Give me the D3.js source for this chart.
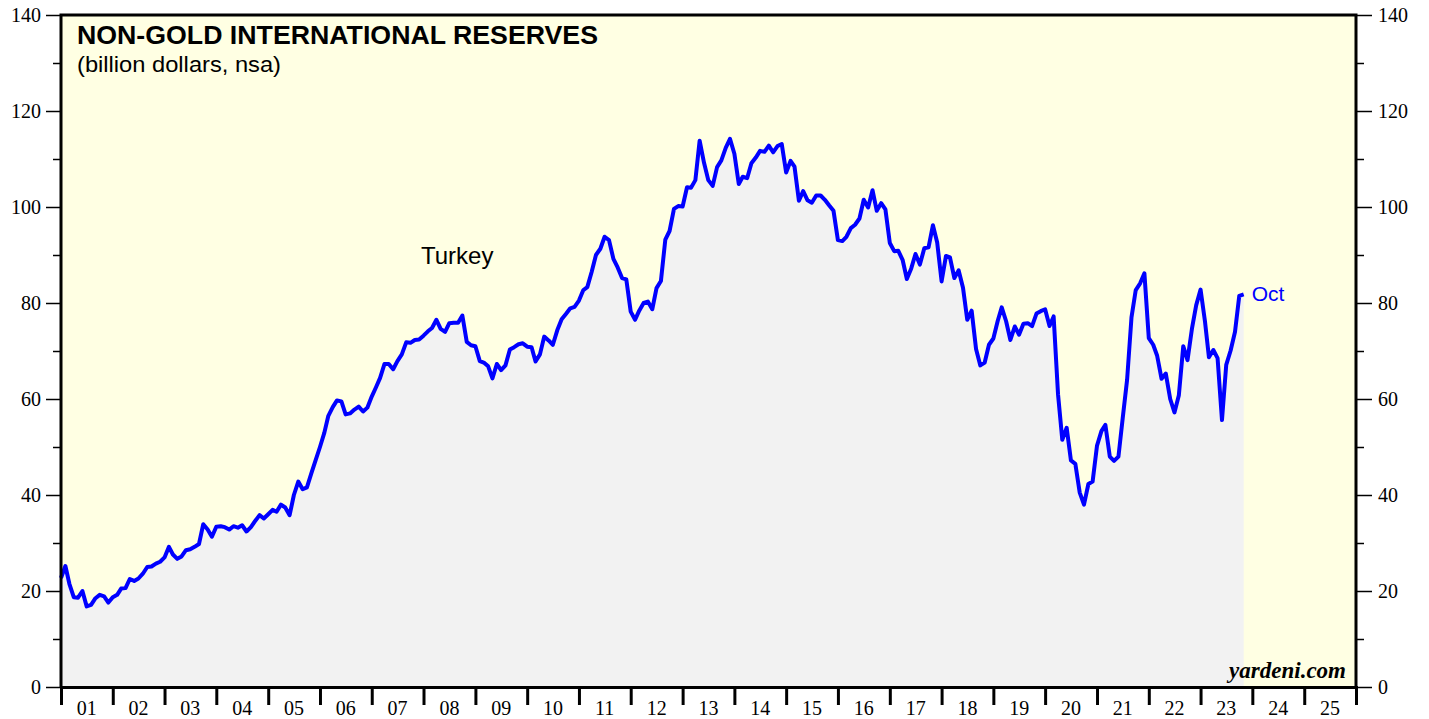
<!DOCTYPE html>
<html>
<head>
<meta charset="utf-8">
<script src="https://cdn.jsdelivr.net/npm/d3@7"></script>
<style>
  body { margin: 0; background: #fff; }
  svg { display: block; }
</style>
</head>
<body>
<div id="chart"></div>
<script>
// monthly non-gold reserves, billion $, Dec 2000 .. Oct 2023 (end of month)
var startYear = 2001; // first value is plotted at the start of 2001 (end of Dec 2000)
var reserves = [
  22.7,
  25.2, 21.5, 18.7, 18.6, 20.0, 16.8, 17.1, 18.5, 19.2, 18.9, 17.6, 18.7,
  19.2, 20.5, 20.6, 22.5, 22.1, 22.6, 23.6, 25.0, 25.1, 25.7, 26.1, 27.0,
  29.2, 27.6, 26.7, 27.2, 28.5, 28.7, 29.2, 29.8, 33.9, 32.8, 31.3, 33.4,
  33.5, 33.3, 32.8, 33.5, 33.2, 33.7, 32.4, 33.3, 34.6, 35.8, 35.1, 36.0,
  36.9, 36.5, 38.0, 37.4, 35.8, 40.0, 42.8, 41.2, 41.6, 44.5, 47.2, 50.0,
  53.0, 56.5, 58.3, 59.7, 59.5, 56.8, 57.0, 57.8, 58.4, 57.4, 58.2, 60.5,
  62.5, 64.4, 67.3, 67.3, 66.2, 67.9, 69.3, 71.8, 71.7, 72.3, 72.4, 73.2,
  74.1, 74.8, 76.5, 74.6, 74.0, 75.8, 75.9, 75.9, 77.4, 71.9, 71.2, 71.0,
  67.9, 67.6, 66.8, 64.3, 67.3, 66.0, 67.0, 70.3, 70.8, 71.4, 71.6, 70.9,
  70.8, 67.8, 69.3, 73.0, 72.2, 71.3, 74.3, 76.6, 77.7, 78.9, 79.2, 80.5,
  82.7, 83.3, 86.5, 90.0, 91.3, 93.8, 93.1, 89.2, 87.4, 85.2, 84.9, 78.2,
  76.5, 78.4, 80.0, 80.3, 78.7, 83.1, 84.6, 93.2, 95.0, 99.6, 100.2, 100.1,
  104.1, 104.0, 105.6, 113.8, 109.2, 105.6, 104.4, 108.3, 109.7, 112.3, 114.2, 111.1,
  104.8, 106.3, 106.0, 109.1, 110.3, 111.7, 111.5, 112.8, 111.4, 112.7, 113.1, 107.2,
  109.6, 108.4, 101.3, 103.3, 101.4, 100.9, 102.4, 102.4, 101.5, 100.3, 99.2, 93.1,
  92.9, 93.8, 95.6, 96.3, 97.6, 101.5, 99.9, 103.5, 99.2, 100.8, 99.5, 92.5,
  90.8, 90.9, 89.0, 85.0, 87.2, 90.2, 88.0, 91.4, 91.6, 96.2, 92.6, 84.5,
  89.8, 89.5, 85.2, 86.8, 83.2, 76.5, 78.4, 70.4, 67.0, 67.6, 71.3, 72.6,
  76.3, 79.1, 76.2, 72.3, 75.1, 73.4, 75.7, 75.8, 75.2, 77.8, 78.3, 78.7,
  75.2, 77.2, 61.0, 51.5, 54.0, 47.2, 46.5, 40.5, 38.0, 42.3, 42.8, 50.3,
  53.3, 54.6, 48.0, 47.1, 48.0, 56.0, 64.0, 77.0, 82.7, 84.1, 86.2, 72.7,
  71.3, 69.0, 64.2, 65.3, 60.0, 57.2, 60.8, 71.0, 68.1, 74.6, 79.5, 82.8,
  76.2, 68.7, 70.2, 68.5, 55.6, 67.1, 70.1, 74.0, 81.5, 81.8
];
var yTicks = [0, 20, 40, 60, 80, 100, 120, 140];
var yMinor = [10, 30, 50, 70, 90, 110, 130];
var years = d3.range(2001, 2026);   // labelled years 01..25
var titleText = "NON-GOLD INTERNATIONAL RESERVES";
var subText = "(billion dollars, nsa)";
var seriesName = "Turkey";
var lastLabel = "Oct";

var svgWidth = 1429, svgHeight = 719;
var margin = { top: 15, right: 73, bottom: 32, left: 61 };
var width = svgWidth - margin.left - margin.right;
var height = svgHeight - margin.top - margin.bottom;

var data = reserves.map(function(v, i) {
  return { date: new Date(startYear, i, 1), value: v };
});

var svg = d3.select("#chart").append("svg")
  .attr("width", svgWidth)
  .attr("height", svgHeight);

var g = svg.append("g")
  .attr("transform", `translate(${margin.left}, ${margin.top})`);

var x = d3.scaleTime()
  .domain([new Date(2001, 0, 1), new Date(2026, 0, 1)])
  .range([0, width]);
var y = d3.scaleLinear().domain([0, 140]).range([height, 0]);

// backgrounds
g.append("rect")
  .attr("width", width).attr("height", height)
  .attr("fill", "#ffffe3");

var area = d3.area()
  .x(d => x(d.date))
  .y0(height)
  .y1(d => y(d.value));
g.append("path").datum(data)
  .attr("d", area)
  .attr("fill", "#f2f2f2");

// text
var serif = "'Liberation Serif', 'DejaVu Serif', serif";
var sans = "'Liberation Sans', Arial, sans-serif";

g.append("text")
  .attr("x", 16).attr("y", 29)
  .attr("textLength", 521).attr("lengthAdjust", "spacingAndGlyphs")
  .style("font-family", sans).style("font-weight", "bold").style("font-size", "25px")
  .text(titleText);
g.append("text")
  .attr("x", 16).attr("y", 57)
  .attr("textLength", 204).attr("lengthAdjust", "spacingAndGlyphs")
  .style("font-family", sans).style("font-size", "22px")
  .text(subText);
g.append("text")
  .attr("x", 360).attr("y", 249)
  .style("font-family", sans).style("font-size", "24px")
  .text(seriesName);
g.append("text")
  .attr("x", width - 10).attr("y", height - 9)
  .attr("text-anchor", "end")
  .style("font-family", serif).style("font-weight", "bold").style("font-style", "italic")
  .style("font-size", "23px")
  .text("yardeni.com");

// series line
var line = d3.line()
  .x(d => x(d.date))
  .y(d => y(d.value));
g.append("path").datum(data)
  .attr("d", line)
  .attr("fill", "none")
  .attr("stroke", "#0000ff")
  .attr("stroke-width", 4)
  .attr("stroke-linejoin", "round");

var last = data[data.length - 1];
g.append("text")
  .attr("x", x(last.date) + 8).attr("y", y(last.value) + 7)
  .style("font-family", sans).style("font-size", "21px")
  .attr("fill", "#0000ff")
  .text(lastLabel);

// frame
g.append("path")
  .attr("d", `M0,${height}V0H${width}V${height}`)
  .attr("fill", "none").attr("stroke", "#000").attr("stroke-width", 3);

// y axes
function styleAxis(sel) {
  sel.select(".domain").remove();
  sel.selectAll("line").attr("stroke", "#000").attr("stroke-width", 1.5);
  sel.selectAll("text")
    .style("font-family", serif).style("font-size", "20px").attr("fill", "#000");
}
g.append("g")
  .call(d3.axisLeft(y).tickValues(yTicks).tickSize(15).tickPadding(5))
  .call(styleAxis);
g.append("g")
  .call(d3.axisLeft(y).tickValues(yMinor).tickSize(8).tickFormat(""))
  .call(styleAxis);
g.append("g")
  .attr("transform", `translate(${width}, 0)`)
  .call(d3.axisRight(y).tickValues(yTicks).tickSize(16).tickPadding(6))
  .call(styleAxis);
g.append("g")
  .attr("transform", `translate(${width}, 0)`)
  .call(d3.axisRight(y).tickValues(yMinor).tickSize(8).tickFormat(""))
  .call(styleAxis);

// x axis: year boundary ticks, labels centred in each year
var yearStarts = d3.range(2001, 2027).map(yr => new Date(yr, 0, 1));
var xAxis = g.append("g")
  .attr("transform", `translate(0, ${height})`)
  .call(d3.axisBottom(x).tickValues(yearStarts).tickSize(18).tickFormat(""));
xAxis.select(".domain").attr("stroke", "#000").attr("stroke-width", 3);
xAxis.selectAll("line").attr("stroke", "#000").attr("stroke-width", 3);

g.append("g")
  .attr("transform", `translate(0, ${height})`)
  .selectAll("text")
  .data(years)
  .enter()
  .append("text")
  .attr("x", d => x(new Date(d, 6, 2)))
  .attr("y", 28)
  .attr("text-anchor", "middle")
  .style("font-family", serif).style("font-size", "20px")
  .text(d => d3.timeFormat("%y")(new Date(d, 0, 1)));
</script>
</body>
</html>
